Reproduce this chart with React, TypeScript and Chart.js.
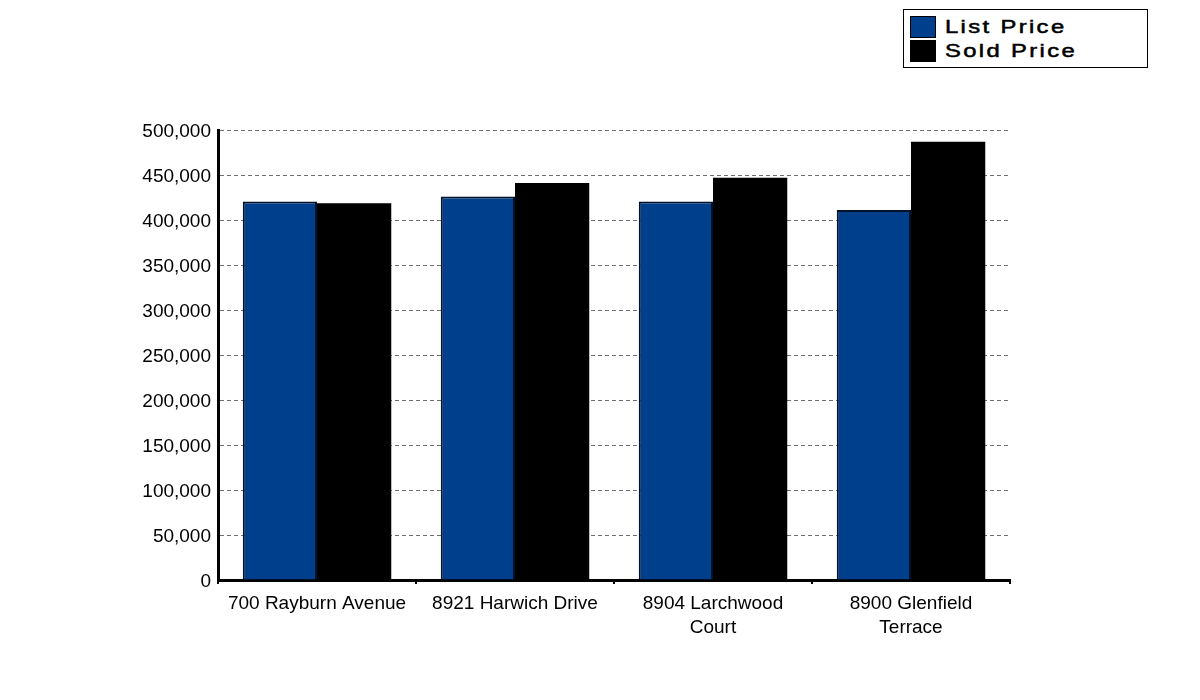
import React, { useEffect, useRef } from "react";
import { Chart, registerables } from "chart.js";

Chart.register(...registerables);

const categories: (string | string[])[] = [
  "700 Rayburn Avenue",
  "8921 Harwich Drive",
  ["8904 Larchwood", "Court"],
  ["8900 Glenfield", "Terrace"],
];
const listPrice = [420500, 426000, 420500, 411000];
const soldPrice = [418500, 441000, 447000, 487000];
const seriesNames = ["List Price", "Sold Price"];
const seriesColors = ["#003f8c", "#000000"];

const FONT = "'Liberation Sans', Arial, sans-serif";

export default function App() {
  const ref = useRef<HTMLCanvasElement | null>(null);

  useEffect(() => {
    if (!ref.current) return;
    const chart = new Chart(ref.current, {
      type: "bar",
      data: {
        labels: categories,
        datasets: [
          {
            label: seriesNames[0],
            data: listPrice,
            backgroundColor: seriesColors[0],
            borderColor: "#02122b",
            borderWidth: 2,
            categoryPercentage: 0.75,
            barPercentage: 1,
          },
          {
            label: seriesNames[1],
            data: soldPrice,
            backgroundColor: seriesColors[1],
            borderColor: "#000000",
            borderWidth: 0,
            categoryPercentage: 0.75,
            barPercentage: 1,
          },
        ],
      },
      options: {
        responsive: false,
        animation: false,
        devicePixelRatio: 1,
        layout: { padding: { left: 0, right: 190, top: 130, bottom: 0 } },
        plugins: {
          legend: { display: false },
          tooltip: { enabled: false },
          title: { display: false },
        },
        scales: {
          x: {
            offset: true,
            grid: {
              offset: true,
              drawOnChartArea: false,
              drawTicks: true,
              tickLength: 4,
              color: "#000",
              lineWidth: 2,
            },
            border: { display: true, color: "#000", width: 3 },
            ticks: {
              color: "#000",
              font: { family: FONT, size: 19, lineHeight: 1.25 },
              padding: 8,
              maxRotation: 0,
              autoSkip: false,
            },
            afterFit: (s: any) => {
              s.height = 120;
            },
          },
          y: {
            min: 0,
            max: 500000,
            ticks: {
              stepSize: 50000,
              color: "#000",
              font: { family: FONT, size: 19 },
              padding: 7,
              labelOffset: 2,
              callback: (v: any) => Number(v).toLocaleString("en-US"),
            },
            grid: {
              drawTicks: false,
              color: (ctx: any) => (ctx.tick && ctx.tick.value === 0 ? "rgba(0,0,0,0)" : "#707070"),
              lineWidth: 1,
            },
            border: { display: true, color: "#000", width: 3, dash: [4, 3] },
            afterFit: (s: any) => {
              s.width = 218;
            },
          },
        },
      },
    });
    return () => chart.destroy();
  }, []);

  const legendRow = (i: number) => (
    <div style={{ display: "flex", alignItems: "center", height: 24 }}>
      <div
        style={{
          width: 24,
          height: 20,
          background: seriesColors[i],
          border: "1px solid #000",
          marginLeft: 6,
          marginRight: 9,
        }}
      />
      <span
        style={{
          fontFamily: FONT,
          fontSize: 18,
          color: "#000",
          letterSpacing: "1.8px",
          display: "inline-block",
          transform: "scaleX(1.32)",
          transformOrigin: "left center",
          whiteSpace: "nowrap",
          WebkitTextStroke: "0.5px #000",
        }}
      >
        {seriesNames[i]}
      </span>
    </div>
  );

  return (
    <div style={{ position: "absolute", left: 0, top: 0, width: 1200, height: 700, background: "#fff" }}>
      <canvas ref={ref} width={1200} height={700} style={{ position: "absolute", left: 0, top: 0 }} />
      <div
        style={{
          position: "absolute",
          left: 903,
          top: 9,
          width: 243,
          height: 52,
          border: "1px solid #000",
          background: "#fff",
          boxSizing: "content-box",
          paddingTop: 5,
        }}
      >
        {legendRow(0)}
        {legendRow(1)}
      </div>
    </div>
  );
}
